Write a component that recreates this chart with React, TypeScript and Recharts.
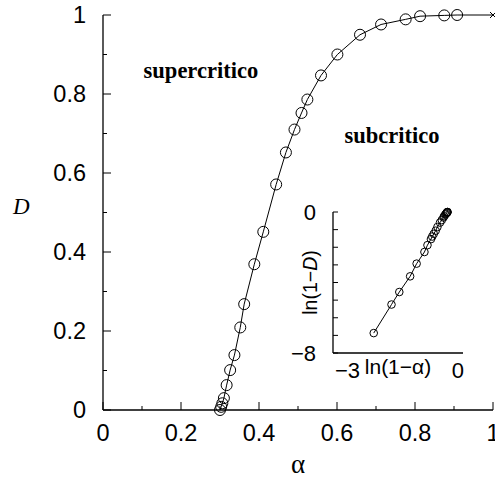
import React from 'react';
import { LineChart, Line, XAxis, YAxis, ReferenceDot, Label } from 'recharts';

// main curve: D as a function of alpha (last point closes the curve at (1,1))
const alpha = [0.3, 0.303, 0.306, 0.31, 0.317, 0.326, 0.337, 0.352, 0.362, 0.388, 0.411, 0.444, 0.469, 0.491, 0.509, 0.524, 0.559, 0.601, 0.659, 0.713, 0.776, 0.813, 0.875, 0.908, 1.0];
const dValues = [0, 0.008, 0.017, 0.03, 0.063, 0.101, 0.139, 0.209, 0.268, 0.369, 0.451, 0.571, 0.652, 0.71, 0.752, 0.786, 0.847, 0.9, 0.95, 0.976, 0.989, 0.997, 0.999, 1.0, 1.0];

// inset: ln(1-alpha) against ln(1-D)
const lnAlpha = [-2.06, -1.65, -1.47, -1.22, -1.07, -0.89, -0.82, -0.74, -0.71, -0.675, -0.63, -0.59, -0.53, -0.49, -0.45, -0.435, -0.41, -0.395, -0.38, -0.37, -0.365, -0.36, -0.357];
const lnD = [-6.87, -5.25, -4.54, -3.65, -2.93, -2.27, -1.88, -1.54, -1.39, -1.24, -1.06, -0.85, -0.6, -0.46, -0.31, -0.235, -0.15, -0.105, -0.065, -0.03, -0.017, -0.008, 0];

const mainTicks = [0, 0.1, 0.2, 0.3, 0.4, 0.5, 0.6, 0.7, 0.8, 0.9, 1];
const insetXTicks = [-3, 0];
const insetYTicks = [-8, -7, -6, -5, -4, -3, -2, -1, 0];
const insetYLabels = [-8, 0];

const mainData = alpha.map((a, i) => ({ a, d: dValues[i] }));
const insetData = lnAlpha.map((x, i) => ({ x, y: lnD[i] }));

const SANS = '"Liberation Sans", Arial, Helvetica, sans-serif';
const SERIF = '"Liberation Serif", "Times New Roman", serif';
const MINUS = '\u2212';

const isMajor = (v: number) => Math.round(v * 10) % 2 === 0;
const fmt = (v: number) => (v < 0 ? MINUS + Math.abs(v) : String(v));

// ticks point into the frame; labels only on the major ones
const BottomTick = ({ x, y, payload }: any) => {
  const major = isMajor(payload.value);
  return (
    <g>
      <line x1={x} x2={x} y1={y} y2={y - (major ? 8 : 4)} stroke="#000" />
      {major && (
        <text x={x} y={y + 31} textAnchor="middle" fontFamily={SANS} fontSize={23.5} fill="#000">
          {fmt(payload.value)}
        </text>
      )}
    </g>
  );
};

const TopTick = ({ x, y, payload }: any) => (
  <line x1={x} x2={x} y1={y} y2={y + (isMajor(payload.value) ? 8 : 4)} stroke="#000" />
);

const LeftTick = ({ x, y, payload }: any) => {
  const major = isMajor(payload.value);
  return (
    <g>
      <line x1={x} x2={x + (major ? 8 : 4)} y1={y} y2={y} stroke="#000" />
      {major && (
        <text x={x - 17} y={y} dy="0.36em" textAnchor="end" fontFamily={SANS} fontSize={23.5} fill="#000">
          {fmt(payload.value)}
        </text>
      )}
    </g>
  );
};

const RightTick = ({ x, y, payload }: any) => (
  <line x1={x} x2={x - (isMajor(payload.value) ? 8 : 4)} y1={y} y2={y} stroke="#000" />
);

const MainDot = ({ cx, cy, payload }: any) => {
  if (payload.a >= 1) {
    return (
      <g stroke="#000" strokeWidth={1}>
        <line x1={cx - 3} x2={cx + 3} y1={cy - 3} y2={cy + 3} />
        <line x1={cx - 3} x2={cx + 3} y1={cy + 3} y2={cy - 3} />
      </g>
    );
  }
  return <circle cx={cx} cy={cy} r={5.5} fill="none" stroke="#000" strokeWidth={1} />;
};

const InsetDot = ({ cx, cy }: any) => (
  <circle cx={cx} cy={cy} r={3.8} fill="none" stroke="#000" strokeWidth={1} />
);

// inset x labels hug the frame corners
const InsetBottomTick = ({ x, y, payload }: any) => (
  <text
    x={payload.value === insetXTicks[0] ? x + 2 : x + 1}
    y={y + 25}
    textAnchor={payload.value === insetXTicks[0] ? 'start' : 'end'}
    fontFamily={SANS}
    fontSize={22}
    fill="#000"
  >
    {fmt(payload.value)}
  </text>
);

const InsetLeftTick = ({ x, y, payload }: any) => (
  <g>
    <line x1={x} x2={x + 5} y1={y} y2={y} stroke="#000" />
    {insetYLabels.includes(payload.value) && (
      <text x={x - 17} y={y} dy="0.36em" textAnchor="end" fontFamily={SANS} fontSize={22} fill="#000">
        {fmt(payload.value)}
      </text>
    )}
  </g>
);

const InsetRightTick = ({ x, y }: any) => <line x1={x} x2={x - 5} y1={y} y2={y} stroke="#000" />;

const axisLine = { stroke: '#000', strokeWidth: 1.3 };

const regionLabel = (text: string) => (p: any) => (
  <text x={p.cx} y={p.cy} textAnchor="middle" fontFamily={SERIF} fontWeight="bold" fontSize={22.5} fill="#000">
    {text}
  </text>
);

export default function App() {
  return (
    <div style={{ position: 'absolute', left: 0, top: 0, width: 495, height: 480, background: '#fff' }}>
      <LineChart width={495} height={480} data={mainData} margin={{ top: 15, right: 2, left: 0, bottom: 0 }}>
        <XAxis
          type="number"
          dataKey="a"
          domain={[0, 1]}
          ticks={mainTicks}
          interval={0}
          height={70}
          tickSize={0}
          tickMargin={0}
          axisLine={axisLine}
          tickLine={false}
          tick={<BottomTick />}
        >
          <Label
            content={(p: any) => (
              <text
                x={p.viewBox.x + p.viewBox.width / 2}
                y={p.viewBox.y + 63}
                textAnchor="middle"
                fontFamily={SERIF}
                fontSize={27}
                fill="#000"
              >
                α
              </text>
            )}
          />
        </XAxis>
        <XAxis
          xAxisId="top"
          orientation="top"
          type="number"
          dataKey="a"
          domain={[0, 1]}
          ticks={mainTicks}
          interval={0}
          height={0}
          tickSize={0}
          tickMargin={0}
          axisLine={axisLine}
          tickLine={false}
          tick={<TopTick />}
        />
        <YAxis
          type="number"
          domain={[0, 1]}
          ticks={mainTicks}
          interval={0}
          width={103}
          tickSize={0}
          tickMargin={0}
          axisLine={axisLine}
          tickLine={false}
          tick={<LeftTick />}
        >
          <Label
            content={(p: any) => (
              <text
                x={13}
                y={p.viewBox.y + p.viewBox.height / 2 + 1}
                fontFamily={SERIF}
                fontStyle="italic"
                fontSize={23}
                fill="#000"
              >
                D
              </text>
            )}
          />
        </YAxis>
        <YAxis
          yAxisId="right"
          orientation="right"
          type="number"
          domain={[0, 1]}
          ticks={mainTicks}
          interval={0}
          width={0}
          tickSize={0}
          tickMargin={0}
          axisLine={axisLine}
          tickLine={false}
          tick={<RightTick />}
        />
        <ReferenceDot x={0.251} y={0.841} r={0} shape={regionLabel('supercritico')} />
        <ReferenceDot x={0.741} y={0.675} r={0} shape={regionLabel('subcritico')} />
        <Line
          dataKey="d"
          type="linear"
          stroke="#000"
          strokeWidth={1}
          dot={<MainDot />}
          isAnimationActive={false}
        />
      </LineChart>

      <div style={{ position: 'absolute', left: 283, top: 195 }}>
        <LineChart width={185} height={188} data={insetData} margin={{ top: 17, right: 5, left: 0, bottom: 0 }}>
          <XAxis
            type="number"
            dataKey="x"
            domain={[-3, 0]}
            ticks={insetXTicks}
            interval={0}
            height={30}
            tickSize={0}
            tickMargin={0}
            axisLine={axisLine}
            tickLine={false}
            tick={<InsetBottomTick />}
          >
            <Label
              content={(p: any) => (
                <text
                  x={p.viewBox.x + p.viewBox.width / 2}
                  y={p.viewBox.y + 21}
                  textAnchor="middle"
                  fontFamily={SANS}
                  fontSize={21}
                  fill="#000"
                >
                  ln(1{MINUS}α)
                </text>
              )}
            />
          </XAxis>
          <XAxis
            xAxisId="top"
            orientation="top"
            type="number"
            dataKey="x"
            domain={[-3, 0]}
            height={0}
            axisLine={axisLine}
            tickLine={false}
            tick={false}
          />
          <YAxis
            type="number"
            domain={[-8, 0]}
            ticks={insetYTicks}
            interval={0}
            width={50}
            tickSize={0}
            tickMargin={0}
            axisLine={axisLine}
            tickLine={false}
            tick={<InsetLeftTick />}
          >
            <Label
              content={(p: any) => {
                const cx = p.viewBox.x + 34;
                const cy = p.viewBox.y + p.viewBox.height / 2;
                return (
                  <text
                    x={cx}
                    y={cy}
                    transform={`rotate(-90 ${cx} ${cy})`}
                    textAnchor="middle"
                    fontFamily={SANS}
                    fontSize={19.5}
                    fill="#000"
                  >
                    ln(1{MINUS}
                    <tspan fontStyle="italic">D</tspan>)
                  </text>
                );
              }}
            />
          </YAxis>
          <YAxis
            yAxisId="right"
            orientation="right"
            type="number"
            domain={[-8, 0]}
            ticks={insetYTicks}
            interval={0}
            width={0}
            tickSize={0}
            tickMargin={0}
            axisLine={axisLine}
            tickLine={false}
            tick={<InsetRightTick />}
          />
          <Line
            dataKey="y"
            type="linear"
            stroke="#000"
            strokeWidth={1}
            dot={<InsetDot />}
            isAnimationActive={false}
          />
        </LineChart>
      </div>
    </div>
  );
}
